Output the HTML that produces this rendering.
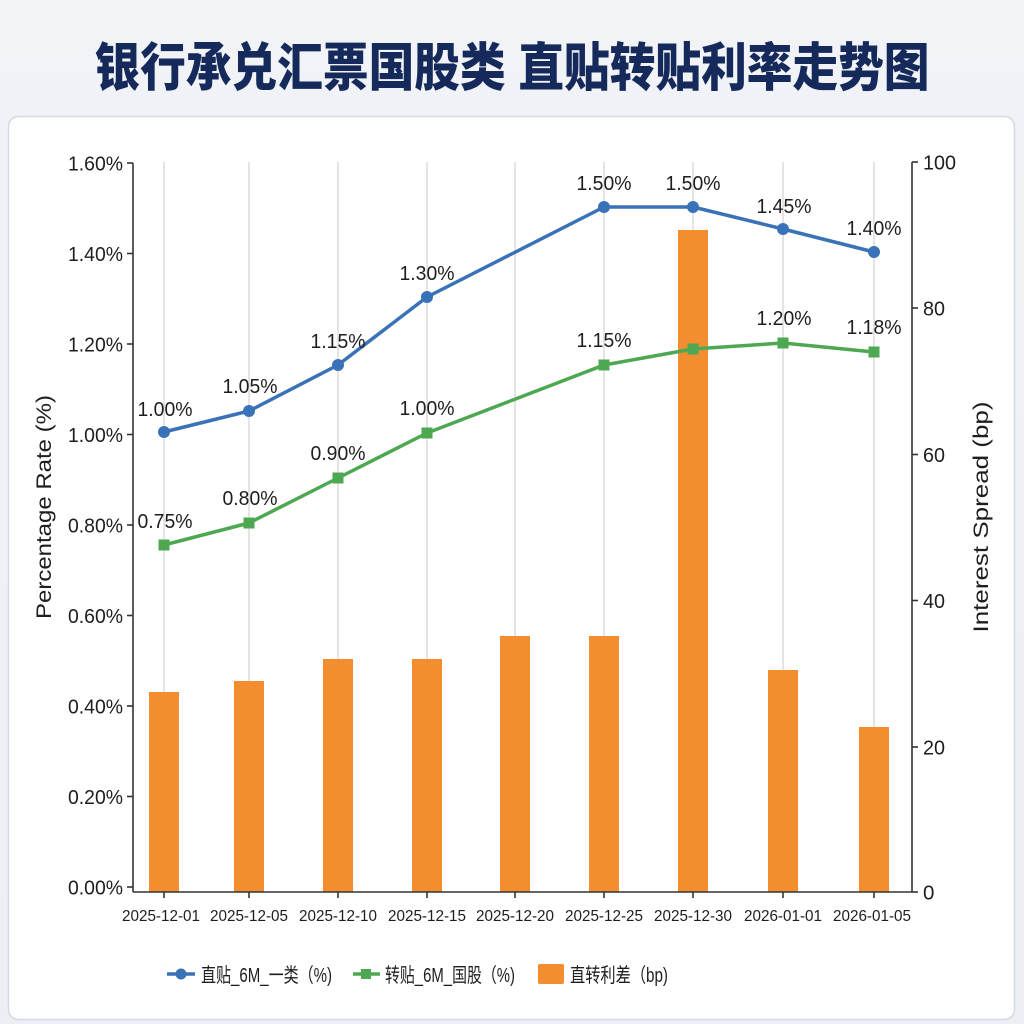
<!DOCTYPE html>
<html>
<head>
<meta charset="utf-8">
<style>
  html, body { margin: 0; padding: 0; background: #eef1f6; }
  svg { display: block; }
  text { font-family: "Liberation Sans", "Noto Sans CJK SC", sans-serif; }
</style>
</head>
<body>
<svg width="1024" height="1024" viewBox="0 0 1024 1024" xmlns="http://www.w3.org/2000/svg">
  <defs>
    <linearGradient id="bg" x1="0" y1="0" x2="0" y2="1">
      <stop offset="0" stop-color="#f1f3f7"/>
      <stop offset="1" stop-color="#eceff4"/>
    </linearGradient>
  </defs>
  <rect x="0" y="0" width="1024" height="1024" fill="url(#bg)"/>
  <!-- card -->
  <rect x="8.5" y="116.5" width="1006" height="903" rx="10" ry="10" fill="#ffffff" stroke="#d5d9e0" stroke-width="1.5"/>

  <!-- title -->
  <text x="512" y="86" text-anchor="middle" font-size="52" font-weight="900" fill="#15295a" textLength="835" lengthAdjust="spacingAndGlyphs">银行承兑汇票国股类 直贴转贴利率走势图</text>

  <!-- vertical gridlines -->
  <g stroke="#dcdcdc" stroke-width="1.5">
    <line x1="164" y1="162" x2="164" y2="892"/>
    <line x1="249" y1="162" x2="249" y2="892"/>
    <line x1="338" y1="162" x2="338" y2="892"/>
    <line x1="427" y1="162" x2="427" y2="892"/>
    <line x1="515" y1="162" x2="515" y2="892"/>
    <line x1="604" y1="162" x2="604" y2="892"/>
    <line x1="693" y1="162" x2="693" y2="892"/>
    <line x1="783" y1="162" x2="783" y2="892"/>
    <line x1="874" y1="162" x2="874" y2="892"/>
  </g>

  <!-- bars -->
  <g fill="#f28e2f">
    <rect x="149" y="692" width="30" height="200"/>
    <rect x="234" y="681" width="30" height="211"/>
    <rect x="323" y="659" width="30" height="233"/>
    <rect x="412" y="659" width="30" height="233"/>
    <rect x="500" y="636" width="30" height="256"/>
    <rect x="589" y="636" width="30" height="256"/>
    <rect x="678" y="230" width="30" height="662"/>
    <rect x="768" y="670" width="30" height="222"/>
    <rect x="859" y="727" width="30" height="165"/>
  </g>

  <!-- blue line -->
  <polyline fill="none" stroke="#3a72b8" stroke-width="3.5" stroke-linejoin="round"
    points="164,432 249,411 338,365 427,297 604,207 693,207 783,229 874,252"/>
  <g fill="#3a72b8">
    <circle cx="164" cy="432" r="6"/>
    <circle cx="249" cy="411" r="6"/>
    <circle cx="338" cy="365" r="6"/>
    <circle cx="427" cy="297" r="6"/>
    <circle cx="604" cy="207" r="6"/>
    <circle cx="693" cy="207" r="6"/>
    <circle cx="783" cy="229" r="6"/>
    <circle cx="874" cy="252" r="6"/>
  </g>

  <!-- green line -->
  <polyline fill="none" stroke="#4ea852" stroke-width="3.5" stroke-linejoin="round"
    points="164,545 249,523 338,478 427,433 604,365 693,349 783,343 874,352"/>
  <g fill="#4ea852">
    <rect x="158.5" y="539.5" width="11" height="11"/>
    <rect x="243.5" y="517.5" width="11" height="11"/>
    <rect x="332.5" y="472.5" width="11" height="11"/>
    <rect x="421.5" y="427.5" width="11" height="11"/>
    <rect x="598.5" y="359.5" width="11" height="11"/>
    <rect x="687.5" y="343.5" width="11" height="11"/>
    <rect x="777.5" y="337.5" width="11" height="11"/>
    <rect x="868.5" y="346.5" width="11" height="11"/>
  </g>

  <!-- data labels -->
  <g font-size="20.5" fill="#1e1e1e" text-anchor="middle">
    <text x="165" y="416" textLength="55" lengthAdjust="spacingAndGlyphs">1.00%</text>
    <text x="250" y="393" textLength="55" lengthAdjust="spacingAndGlyphs">1.05%</text>
    <text x="338" y="348" textLength="55" lengthAdjust="spacingAndGlyphs">1.15%</text>
    <text x="427" y="280" textLength="55" lengthAdjust="spacingAndGlyphs">1.30%</text>
    <text x="604" y="190" textLength="55" lengthAdjust="spacingAndGlyphs">1.50%</text>
    <text x="693" y="190" textLength="55" lengthAdjust="spacingAndGlyphs">1.50%</text>
    <text x="784" y="213" textLength="55" lengthAdjust="spacingAndGlyphs">1.45%</text>
    <text x="874" y="235" textLength="55" lengthAdjust="spacingAndGlyphs">1.40%</text>

    <text x="165" y="528" textLength="55" lengthAdjust="spacingAndGlyphs">0.75%</text>
    <text x="250" y="505" textLength="55" lengthAdjust="spacingAndGlyphs">0.80%</text>
    <text x="338" y="460" textLength="55" lengthAdjust="spacingAndGlyphs">0.90%</text>
    <text x="427" y="415" textLength="55" lengthAdjust="spacingAndGlyphs">1.00%</text>
    <text x="604" y="347" textLength="55" lengthAdjust="spacingAndGlyphs">1.15%</text>
    <text x="784" y="325" textLength="55" lengthAdjust="spacingAndGlyphs">1.20%</text>
    <text x="874" y="334" textLength="55" lengthAdjust="spacingAndGlyphs">1.18%</text>
  </g>

  <!-- axes -->
  <g stroke="#333333" stroke-width="1.6" fill="none">
    <line x1="133" y1="163" x2="133" y2="892"/>
    <line x1="133" y1="892" x2="912" y2="892"/>
    <line x1="912" y1="162" x2="912" y2="892"/>
    <!-- left ticks -->
    <line x1="127" y1="163" x2="133" y2="163"/>
    <line x1="127" y1="253.5" x2="133" y2="253.5"/>
    <line x1="127" y1="344" x2="133" y2="344"/>
    <line x1="127" y1="434.5" x2="133" y2="434.5"/>
    <line x1="127" y1="525" x2="133" y2="525"/>
    <line x1="127" y1="615.5" x2="133" y2="615.5"/>
    <line x1="127" y1="706" x2="133" y2="706"/>
    <line x1="127" y1="796.5" x2="133" y2="796.5"/>
    <line x1="127" y1="887" x2="133" y2="887"/>
    <!-- right ticks -->
    <line x1="912" y1="162" x2="918" y2="162"/>
    <line x1="912" y1="308" x2="918" y2="308"/>
    <line x1="912" y1="454.5" x2="918" y2="454.5"/>
    <line x1="912" y1="600.5" x2="918" y2="600.5"/>
    <line x1="912" y1="747" x2="918" y2="747"/>
    <line x1="912" y1="892" x2="918" y2="892"/>
    <!-- bottom ticks -->
    <line x1="164" y1="892" x2="164" y2="898"/>
    <line x1="249" y1="892" x2="249" y2="898"/>
    <line x1="338" y1="892" x2="338" y2="898"/>
    <line x1="427" y1="892" x2="427" y2="898"/>
    <line x1="515" y1="892" x2="515" y2="898"/>
    <line x1="604" y1="892" x2="604" y2="898"/>
    <line x1="693" y1="892" x2="693" y2="898"/>
    <line x1="783" y1="892" x2="783" y2="898"/>
    <line x1="874" y1="892" x2="874" y2="898"/>
  </g>

  <!-- left tick labels -->
  <g font-size="20.5" fill="#1e1e1e" text-anchor="end">
    <text x="123" y="170.5" textLength="55" lengthAdjust="spacingAndGlyphs">1.60%</text>
    <text x="123" y="261" textLength="55" lengthAdjust="spacingAndGlyphs">1.40%</text>
    <text x="123" y="351.5" textLength="55" lengthAdjust="spacingAndGlyphs">1.20%</text>
    <text x="123" y="442" textLength="55" lengthAdjust="spacingAndGlyphs">1.00%</text>
    <text x="123" y="532.5" textLength="55" lengthAdjust="spacingAndGlyphs">0.80%</text>
    <text x="123" y="623" textLength="55" lengthAdjust="spacingAndGlyphs">0.60%</text>
    <text x="123" y="713.5" textLength="55" lengthAdjust="spacingAndGlyphs">0.40%</text>
    <text x="123" y="804" textLength="55" lengthAdjust="spacingAndGlyphs">0.20%</text>
    <text x="123" y="894.5" textLength="55" lengthAdjust="spacingAndGlyphs">0.00%</text>
  </g>

  <!-- right tick labels -->
  <g font-size="20.5" fill="#1e1e1e" text-anchor="start">
    <text x="923" y="169.5" textLength="33" lengthAdjust="spacingAndGlyphs">100</text>
    <text x="923" y="315.5" textLength="22" lengthAdjust="spacingAndGlyphs">80</text>
    <text x="923" y="462" textLength="22" lengthAdjust="spacingAndGlyphs">60</text>
    <text x="923" y="608" textLength="22" lengthAdjust="spacingAndGlyphs">40</text>
    <text x="923" y="754.5" textLength="22" lengthAdjust="spacingAndGlyphs">20</text>
    <text x="923" y="899.5">0</text>
  </g>

  <!-- x tick labels -->
  <g font-size="16" fill="#1e1e1e" text-anchor="middle">
    <text x="161" y="921" textLength="78" lengthAdjust="spacingAndGlyphs">2025-12-01</text>
    <text x="249" y="921" textLength="78" lengthAdjust="spacingAndGlyphs">2025-12-05</text>
    <text x="338" y="921" textLength="78" lengthAdjust="spacingAndGlyphs">2025-12-10</text>
    <text x="427" y="921" textLength="78" lengthAdjust="spacingAndGlyphs">2025-12-15</text>
    <text x="515" y="921" textLength="78" lengthAdjust="spacingAndGlyphs">2025-12-20</text>
    <text x="604" y="921" textLength="78" lengthAdjust="spacingAndGlyphs">2025-12-25</text>
    <text x="693" y="921" textLength="78" lengthAdjust="spacingAndGlyphs">2025-12-30</text>
    <text x="783" y="921" textLength="78" lengthAdjust="spacingAndGlyphs">2026-01-01</text>
    <text x="872" y="921" textLength="78" lengthAdjust="spacingAndGlyphs">2026-01-05</text>
  </g>

  <!-- axis titles -->
  <text transform="translate(51,507) rotate(-90)" text-anchor="middle" font-size="21" fill="#1e1e1e" textLength="224" lengthAdjust="spacingAndGlyphs">Percentage Rate (%)</text>
  <text transform="translate(988,517) rotate(-90)" text-anchor="middle" font-size="21" fill="#1e1e1e" textLength="231" lengthAdjust="spacingAndGlyphs">Interest Spread (bp)</text>

  <!-- legend -->
  <line x1="167" y1="974" x2="195" y2="974" stroke="#3a72b8" stroke-width="3.5"/>
  <circle cx="181" cy="974" r="5.5" fill="#3a72b8"/>
  <text x="201" y="982" font-size="20" fill="#1e1e1e" textLength="131" lengthAdjust="spacingAndGlyphs">直贴_6M_一类（%)</text>

  <line x1="353" y1="974" x2="380" y2="974" stroke="#4ea852" stroke-width="3.5"/>
  <rect x="361" y="969" width="10" height="10" fill="#4ea852"/>
  <text x="385" y="982" font-size="20" fill="#1e1e1e" textLength="130" lengthAdjust="spacingAndGlyphs">转贴_6M_国股（%)</text>

  <rect x="538" y="964" width="26" height="20" rx="2" fill="#f28e2f"/>
  <text x="570" y="982" font-size="20" fill="#1e1e1e" textLength="98" lengthAdjust="spacingAndGlyphs">直转利差（bp)</text>
</svg>
</body>
</html>
